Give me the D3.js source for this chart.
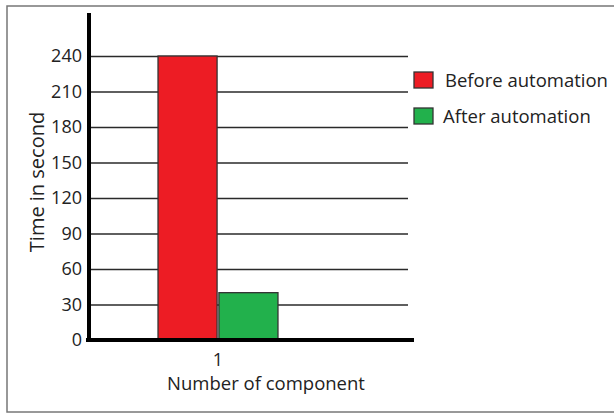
<!DOCTYPE html>
<html>
<head>
<meta charset="utf-8">
<script src="https://cdn.jsdelivr.net/npm/d3@7"></script>
<style>
html,body{margin:0;padding:0;background:#fff;}
svg{display:block;}
text{font-family:"Open Sans",sans-serif;fill:#222;}
</style>
</head>
<body>
<svg id="chart" width="614" height="415"></svg>
<script>
const categories = ["1"];
const seriesNames = ["Before automation", "After automation"];
const beforeValues = [240];
const afterValues = [40];
const yTicks = [0, 30, 60, 90, 120, 150, 180, 210, 240];
const colors = ["#ed1c24", "#22b14c"];

const svg = d3.select("#chart");
const W = 614, H = 415;

// frame
svg.append("rect").attr("x", 7).attr("y", 6).attr("width", 620).attr("height", 406)
  .attr("fill", "none").attr("stroke", "#777").attr("stroke-width", 1.5);

const y = d3.scaleLinear().domain([0, 240]).range([340, 56]);
const x0 = d3.scaleBand().domain(categories).range([90, 346]).paddingOuter(0.567).paddingInner(0);
const x1 = d3.scaleBand().domain(seriesNames).range([0, x0.bandwidth()]).paddingInner(0.03);

// gridlines
const grid = d3.axisLeft(y).tickValues(yTicks.filter(d => d > 0)).tickSize(-318).tickFormat("");
svg.append("g").attr("transform", "translate(90,0)").call(grid)
  .call(g => g.select(".domain").remove())
  .call(g => g.selectAll("line").attr("stroke", "#2a2a2a").attr("stroke-width", 1.3));

// bars
const data = categories.map((c, i) => ({cat: c, vals: [beforeValues[i], afterValues[i]]}));
const groups = svg.append("g").selectAll("g").data(data).join("g")
  .attr("transform", d => `translate(${x0(d.cat)},0)`);
groups.selectAll("rect").data(d => d.vals.map((v, j) => ({name: seriesNames[j], v, j})))
  .join("rect")
  .attr("x", d => x1(d.name))
  .attr("y", d => y(d.v))
  .attr("width", x1.bandwidth())
  .attr("height", d => y(0) - y(d.v))
  .attr("fill", d => colors[d.j])
  .attr("stroke", "#333")
  .attr("stroke-width", 1.3);

// y axis labels
const yAxis = d3.axisLeft(y).tickValues(yTicks).tickSize(0).tickPadding(8);
svg.append("g").attr("transform", "translate(90,0)").call(yAxis)
  .call(g => g.select(".domain").remove())
  .call(g => g.selectAll("text").attr("font-family", "Open Sans").attr("font-size", 18).attr("fill", "#222"));

// axes lines
svg.append("line").attr("x1", 89).attr("x2", 89).attr("y1", 13).attr("y2", 342)
  .attr("stroke", "#000").attr("stroke-width", 4);
svg.append("line").attr("x1", 86).attr("x2", 414).attr("y1", 340).attr("y2", 340)
  .attr("stroke", "#000").attr("stroke-width", 4);

// x axis labels
const xAxis = d3.axisBottom(x0).tickSize(0).tickPadding(12);
svg.append("g").attr("transform", "translate(0,341)").call(xAxis)
  .call(g => g.select(".domain").remove())
  .call(g => g.selectAll("text").attr("font-family", "Open Sans").attr("font-size", 18).attr("fill", "#222"));

svg.append("text").attr("x", 266).attr("y", 390).attr("text-anchor", "middle")
  .attr("font-size", 18.5).text("Number of component");

svg.append("text").attr("transform", "translate(44,182) rotate(-90)")
  .attr("text-anchor", "middle").attr("font-size", 20).text("Time in second");

// legend
const legend = svg.append("g");
const legY = [72, 108];
seriesNames.forEach((s, i) => {
  legend.append("rect").attr("x", 414).attr("y", legY[i]).attr("width", 19).attr("height", 16)
    .attr("fill", colors[i]).attr("stroke", "#333").attr("stroke-width", 1.3);
  legend.append("text").attr("x", i === 0 ? 445 : 443).attr("y", legY[i] + 15)
    .attr("font-size", 18.5).text(s);
});
</script>
</body>
</html>
